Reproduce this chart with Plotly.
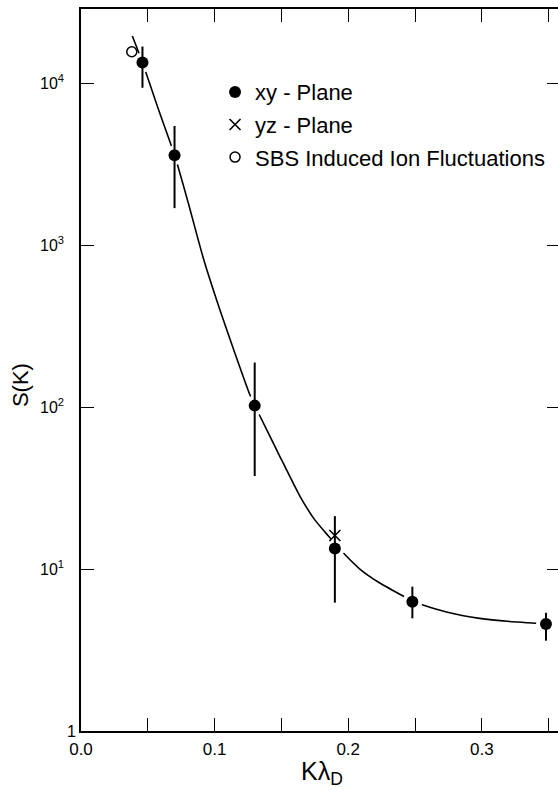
import plotly.graph_objects as go

# ---- data ----
k_xy = [0.046, 0.070, 0.130, 0.190, 0.248, 0.348]
s_xy = [13400, 3580, 102, 13.4, 6.28, 4.57]
s_xy_hi = [16800, 5430, 188, 21.2, 7.78, 5.37]
s_xy_lo = [9350, 1690, 37.5, 6.2, 4.96, 3.61]

k_yz = [0.190]
s_yz = [16.1]

k_sbs = [0.038]
s_sbs = [15600]

# hand-drawn fit curve
k_fit = [0.0384, 0.0459, 0.0576, 0.0701, 0.0803, 0.0915, 0.1040, 0.1152, 0.1264,
         0.1301, 0.1339, 0.1476, 0.1638, 0.1750, 0.1857, 0.1902, 0.1962, 0.2087,
         0.2236, 0.2411, 0.2478, 0.2548, 0.2735, 0.2984, 0.3209, 0.3480]
s_fit = [19500, 13490, 7010, 3580, 1816, 832, 397, 215, 119,
         102, 88, 52, 28.2, 20.1, 15.8, 14.3, 12.6, 10.0,
         8.2, 6.81, 6.35, 6.04, 5.43, 4.96, 4.74, 4.58]

x_tick_vals = [0.0, 0.05, 0.10, 0.15, 0.20, 0.25, 0.30, 0.35]
x_tick_text = ["0.0", "", "0.1", "", "0.2", "", "0.3", ""]
y_tick_vals = [1, 10, 100, 1000, 10000]
y_tick_text = ["", "10<sup>1</sup>", "10<sup>2</sup>", "10<sup>3</sup>", "10<sup>4</sup>"]

err_plus = [h - s for h, s in zip(s_xy_hi, s_xy)]
err_minus = [s - l for s, l in zip(s_xy, s_xy_lo)]

FONT = "Liberation Sans, Arial, sans-serif"

fig = go.Figure()

fig.add_trace(go.Scatter(x=k_fit, y=s_fit, mode="lines",
                         line=dict(color="black", width=1.6, shape="spline", smoothing=0.5),
                         showlegend=False, hoverinfo="skip"))
# white halos around filled points (gap in the curve)
fig.add_trace(go.Scatter(x=k_xy, y=s_xy, mode="markers",
                         marker=dict(color="white", size=20, line=dict(width=0)),
                         showlegend=False, hoverinfo="skip"))
fig.add_trace(go.Scatter(x=k_xy, y=s_xy, mode="markers", name="xy - Plane",
                         marker=dict(color="black", size=12, symbol="circle"),
                         error_y=dict(type="data", symmetric=False, array=err_plus,
                                      arrayminus=err_minus, color="black",
                                      thickness=2, width=0),
                         legendgroup="a"))
fig.add_trace(go.Scatter(x=k_yz, y=s_yz, mode="markers", name="yz - Plane",
                         marker=dict(color="black", size=11, symbol="x-thin-open",
                                     line=dict(color="black", width=1.6)),
                         legendgroup="b"))
fig.add_trace(go.Scatter(x=k_sbs, y=s_sbs, mode="markers",
                         name="SBS Induced Ion Fluctuations",
                         marker=dict(color="black", size=10, symbol="circle-open",
                                     line=dict(color="black", width=1.5)),
                         legendgroup="c"))
# invisible trace to anchor the right-hand tick axis
fig.add_trace(go.Scatter(x=k_xy, y=s_xy, yaxis="y2", mode="markers",
                         marker=dict(opacity=0), showlegend=False, hoverinfo="skip"))

fig.update_layout(
    width=558, height=791,
    margin=dict(l=81, r=0, t=9, b=60),
    paper_bgcolor="white", plot_bgcolor="white",
    font=dict(family=FONT, color="black"),
    xaxis=dict(range=[0, 0.357], tickvals=x_tick_vals, ticktext=x_tick_text,
               ticks="inside", ticklen=13, tickwidth=1.3, tickcolor="black",
               showline=True, linecolor="black", linewidth=1.5, mirror="ticks",
               showgrid=False, zeroline=False, tickfont=dict(size=17),
               ticklabelstandoff=2, automargin=False),
    yaxis=dict(type="log", range=[0, 4.457], tickvals=y_tick_vals, ticktext=y_tick_text,
               ticks="inside", ticklen=13, tickwidth=1.3, tickcolor="black",
               showline=True, linecolor="black", linewidth=1.5,
               showgrid=False, zeroline=False, tickfont=dict(size=16),
               ticklabelstandoff=12, automargin=False),
    yaxis2=dict(type="log", range=[0, 4.457], overlaying="y", side="right",
                tickvals=y_tick_vals, showticklabels=False,
                ticks="inside", ticklen=11, tickwidth=1.3, tickcolor="black",
                showline=False, showgrid=False, zeroline=False, automargin=False),
    showlegend=True,
    legend=dict(x=0.281, y=0.914, xanchor="left", yanchor="top",
                font=dict(size=22, family=FONT), bgcolor="rgba(0,0,0,0)",
                traceorder="grouped", tracegroupgap=1),
    annotations=[
        dict(text="1", x=-0.02, y=0, xref="paper", yref="paper",
             xanchor="center", yanchor="middle", showarrow=False,
             font=dict(size=16, family=FONT)),
        dict(text="S(K)", x=-0.128, y=0.479, xref="paper", yref="paper",
             xanchor="center", yanchor="middle", textangle=-90, showarrow=False,
             font=dict(size=22, family=FONT)),
        dict(text="K\u03bb<sub>D</sub>", x=0.505, y=-0.033, xref="paper", yref="paper",
             xanchor="center", yanchor="top", showarrow=False,
             font=dict(size=25, family=FONT)),
    ],
)

fig.write_html("out.html", config={"displayModeBar": False},
               post_script="document.body.style.margin='0';document.body.style.overflow='hidden';")
